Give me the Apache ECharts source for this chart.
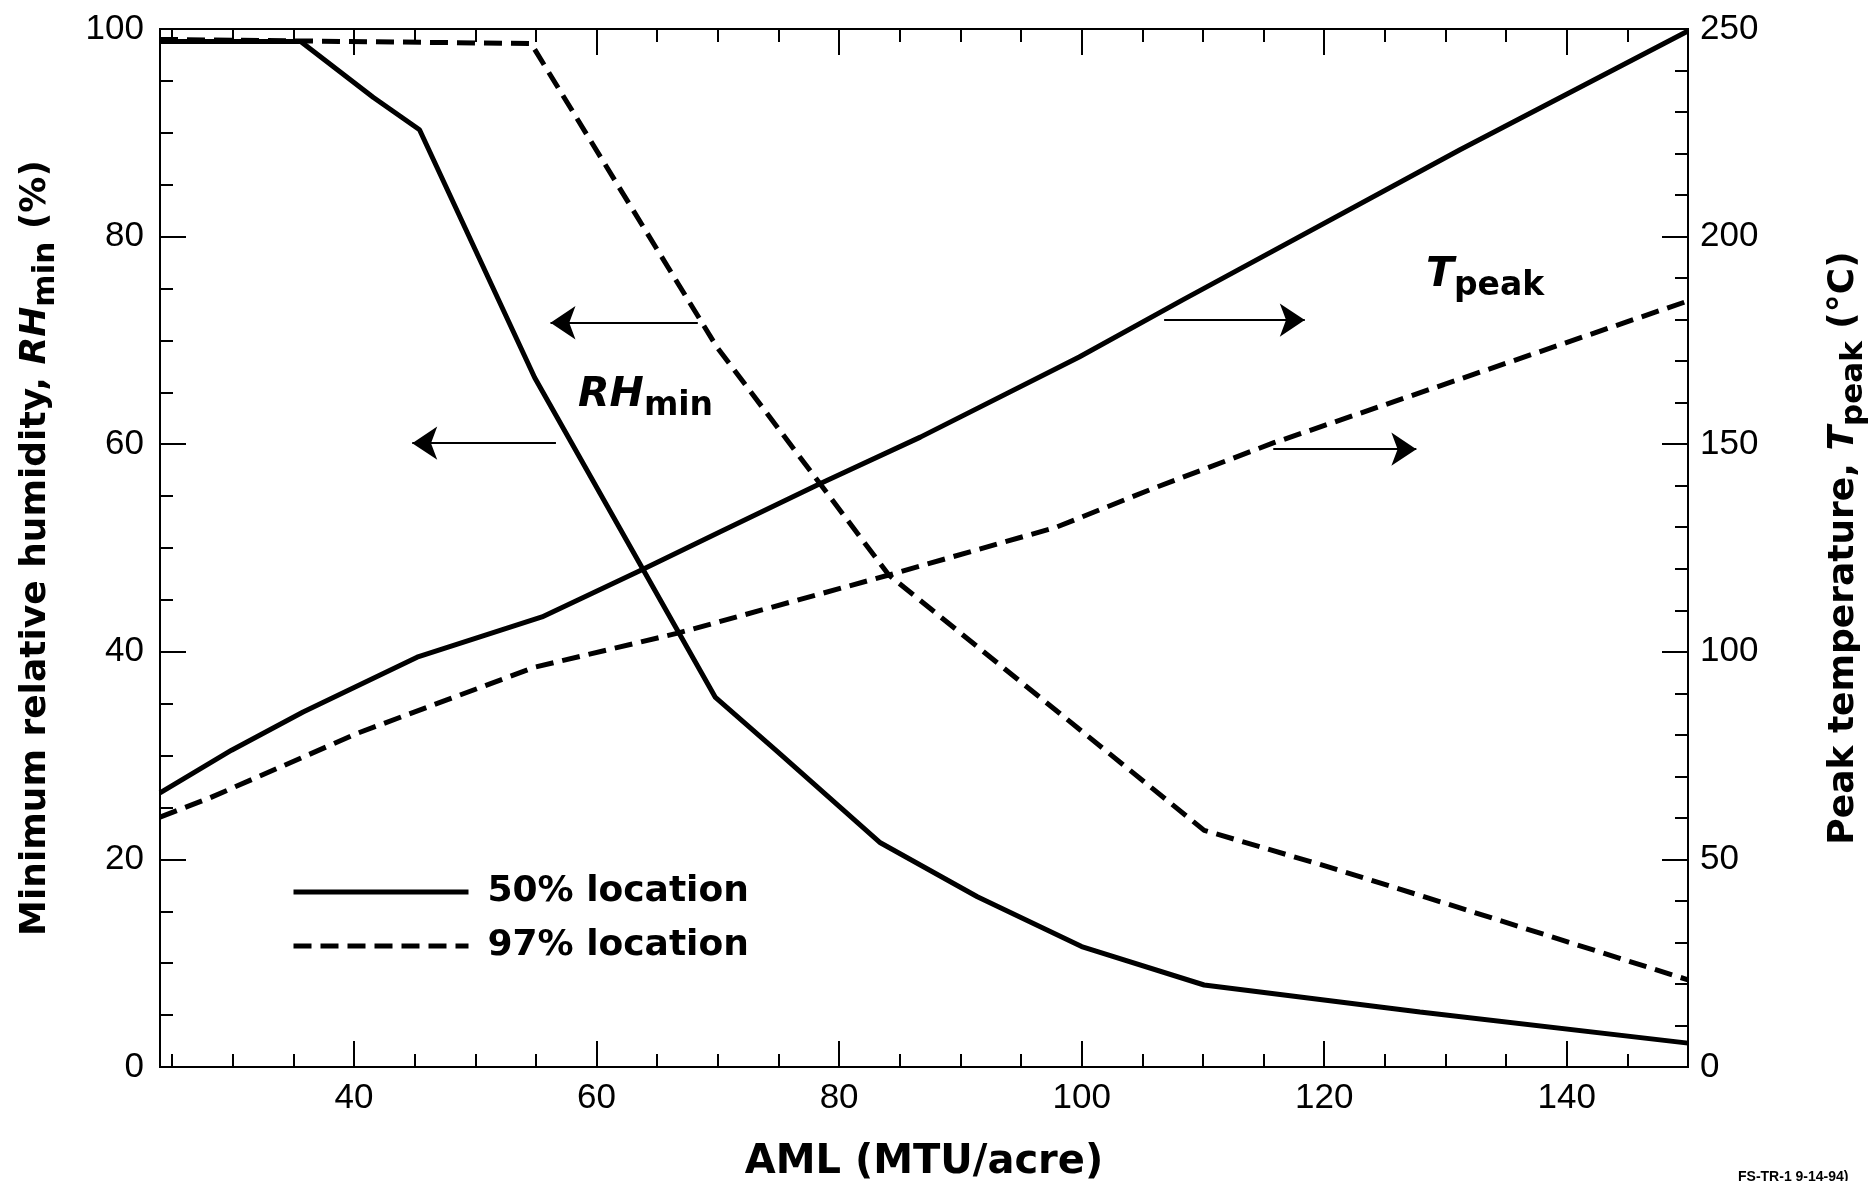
<!DOCTYPE html>
<html>
<head>
<meta charset="utf-8">
<script src="https://cdn.jsdelivr.net/npm/echarts@6/dist/echarts.min.js"></script>
<style>
html,body{margin:0;padding:0;background:#ffffff;}
#chart{width:1871px;height:1181px;}
</style>
</head>
<body>
<div id="chart"></div>
<script>
// ---------------- data ----------------
// Minimum relative humidity (%), 50% location (solid)
const rh50X = [24, 35.6, 41.6, 45.4, 54.9, 69.8, 74.8, 83.4, 91.4, 100, 110.1, 127.9, 150];
const rh50Y = [98.8, 98.8, 93.4, 90.3, 66.4, 35.6, 30.5, 21.6, 16.4, 11.6, 7.9, 5.3, 2.3];
// Minimum relative humidity (%), 97% location (dashed)
const rh97X = [24, 54.6, 69.9, 84.1, 110.1, 120, 131, 150];
const rh97Y = [99.0, 98.6, 69.4, 47.4, 22.8, 19.4, 15.4, 8.4];
// Peak temperature (°C), 50% location (solid)
const t50X = [24, 29.9, 35.8, 45.2, 55.5, 63.7, 70.2, 78.5, 86.7, 99.8, 108.3, 131.2, 150];
const t50Y = [66.0, 76.3, 85.5, 98.7, 108.4, 119.7, 128.9, 140.6, 151.7, 171.0, 184.7, 220.9, 249.5];
// Peak temperature (°C), 97% location (dashed)
const t97X = [24, 28.1, 40.3, 54.9, 66.7, 84.1, 97.9, 105.6, 115.8, 126.6, 150];
const t97Y = [60.2, 64.8, 80.4, 96.3, 104.5, 118.5, 130.0, 139.0, 150.3, 161.1, 184.5];

// annotation arrows (start point, end point) in data units
const rhArrows = [[[68.35, 71.7], [56.2, 71.7]], [[56.65, 60.1], [44.8, 60.1]]];
const tArrows = [[[106.8, 179.9], [118.4, 179.9]], [[115.8, 148.8], [127.6, 148.8]]];

// axis ticks / labels
const xLabels = [40, 60, 80, 100, 120, 140];
const xMinor = [25, 30, 35, 45, 50, 55, 65, 70, 75, 85, 90, 95, 105, 110, 115, 125, 130, 135, 145];
const seriesNames = ['50% location', '97% location'];

// ---------------- chart ----------------
const FNUM = 'Liberation Sans';
const FB = 'DejaVu Sans';
const BLACK = '#000000';
const pairs = (xs, ys) => xs.map((x, i) => [x, ys[i]]);
const tickLS = {color: BLACK, width: 2};
const axLS = {color: BLACK, width: 2};

function xAx(position, ticks, len, withLabels, extra) {
  return Object.assign({
    type: 'value', position: position, min: 24, max: 150, gridIndex: 0,
    axisLine: {show: true, onZero: false, lineStyle: axLS},
    axisTick: {show: true, inside: true, length: len, customValues: ticks, lineStyle: tickLS},
    axisLabel: withLabels ? {show: true, customValues: xLabels, margin: 14, color: BLACK,
      fontFamily: FNUM, fontSize: 35} : {show: false},
    splitLine: {show: false}
  }, extra || {});
}
function yAx(position, max, interval, len, withLabels, extra) {
  return Object.assign({
    type: 'value', position: position, min: 0, max: max, interval: interval, gridIndex: 0,
    axisLine: {show: true, onZero: false, lineStyle: axLS},
    axisTick: {show: true, inside: true, length: len, lineStyle: tickLS},
    axisLabel: withLabels ? {show: true, margin: position === 'left' ? 16 : 12, color: BLACK,
      fontFamily: FNUM, fontSize: 35} : {show: false},
    splitLine: {show: false}
  }, extra || {});
}

const titleRich = {
  n: {fontFamily: FB, fontWeight: 'bold', fontSize: 36, color: BLACK},
  i: {fontFamily: FB, fontWeight: 'bold', fontStyle: 'italic', fontSize: 36, color: BLACK},
  s: {fontFamily: FB, fontWeight: 'bold', fontSize: 31, color: BLACK, padding: [20, 0, 0, 0]}
};

const arrowML = (arr) => ({
  silent: true,
  symbol: ['none', 'arrow'],
  symbolSize: 25,
  label: {show: false},
  emphasis: {disabled: true},
  lineStyle: {color: BLACK, width: 2, type: 'solid'},
  data: arr.map(a => [{coord: a[0]}, {coord: a[1]}])
});

const option = {
  animation: false,
  backgroundColor: '#ffffff',
  grid: {left: 160, right: 183, top: 29, bottom: 114, containLabel: false, outerBoundsMode: 'none'},
  legend: {
    data: seriesNames,
    orient: 'vertical',
    left: 286, top: 866,
    itemWidth: 175, itemHeight: 14, itemGap: 12,
    itemStyle: {color: 'rgba(0,0,0,0)', borderWidth: 0},
    lineStyle: {width: 5, type: 'inherit', color: BLACK},
    textStyle: {fontFamily: FB, fontWeight: 'bold', fontSize: 36, color: BLACK,
      lineHeight: 42, padding: [0, 0, 0, 14]},
    selectedMode: false
  },
  xAxis: [
    xAx('bottom', xLabels, 26, true, {
      name: 'AML (MTU/acre)', nameLocation: 'middle', nameGap: 76,
      nameTextStyle: {fontFamily: FB, fontWeight: 'bold', fontSize: 40, color: BLACK}
    }),
    xAx('bottom', xMinor, 13, false),
    xAx('top', xLabels, 26, false),
    xAx('top', xMinor, 13, false)
  ],
  yAxis: [
    yAx('left', 100, 20, 26, true, {
      name: '{n|Minimum relative humidity, }{i|RH}{s|min}{n| (%)}',
      nameLocation: 'middle', nameRotate: 90, nameGap: 99,
      nameTextStyle: {fontFamily: FB, fontWeight: 'bold', fontSize: 36, color: BLACK, rich: titleRich}
    }),
    yAx('left', 100, 5, 13, false),
    yAx('right', 250, 50, 26, true, {
      name: '{n|Peak temperature, }{i|T}{s|peak}{n| (°C)}',
      nameLocation: 'middle', nameRotate: 90, nameGap: 130,
      nameTextStyle: {fontFamily: FB, fontWeight: 'bold', fontSize: 36, color: BLACK, rich: titleRich}
    }),
    yAx('right', 250, 10, 13, false)
  ],
  series: [
    {
      type: 'line', name: seriesNames[1], xAxisIndex: 0, yAxisIndex: 0,
      data: pairs(rh97X, rh97Y), symbol: 'none', silent: true,
      lineStyle: {color: BLACK, width: 5, type: [18, 9]},
      markLine: arrowML(rhArrows)
    },
    {
      type: 'line', name: seriesNames[1], xAxisIndex: 0, yAxisIndex: 2,
      data: pairs(t97X, t97Y), symbol: 'none', silent: true,
      lineStyle: {color: BLACK, width: 5, type: [18, 9]},
      markLine: arrowML(tArrows)
    },
    {
      type: 'line', name: seriesNames[0], xAxisIndex: 0, yAxisIndex: 0,
      data: pairs(rh50X, rh50Y), symbol: 'none', silent: true,
      lineStyle: {color: BLACK, width: 5, type: 'solid'}
    },
    {
      type: 'line', name: seriesNames[0], xAxisIndex: 0, yAxisIndex: 2,
      data: pairs(t50X, t50Y), symbol: 'none', silent: true,
      lineStyle: {color: BLACK, width: 5, type: 'solid'}
    }
  ],
  graphic: [
    {
      type: 'text', x: 578, y: 395, silent: true,
      style: {
        text: '{i|RH}{s|min}', verticalAlign: 'middle',
        rich: {
          i: {fontFamily: FB, fontWeight: 'bold', fontStyle: 'italic', fontSize: 41, fill: BLACK},
          s: {fontFamily: FB, fontWeight: 'bold', fontSize: 33, fill: BLACK, padding: [22, 0, 0, 0]}
        }
      }
    },
    {
      type: 'text', x: 1426, y: 275, silent: true,
      style: {
        text: '{i|T}{s|peak}', verticalAlign: 'middle',
        rich: {
          i: {fontFamily: FB, fontWeight: 'bold', fontStyle: 'italic', fontSize: 41, fill: BLACK},
          s: {fontFamily: FB, fontWeight: 'bold', fontSize: 33, fill: BLACK, padding: [22, 0, 0, 0]}
        }
      }
    },
    {
      type: 'text', x: 1738, y: 1170, silent: true,
      style: {text: 'FS-TR-1 9-14-94)', font: 'bold 14px "Liberation Sans"', fill: BLACK}
    }
  ]
};

const chart = echarts.init(document.getElementById('chart'), null, {renderer: 'canvas'});
chart.setOption(option);
</script>
</body>
</html>
